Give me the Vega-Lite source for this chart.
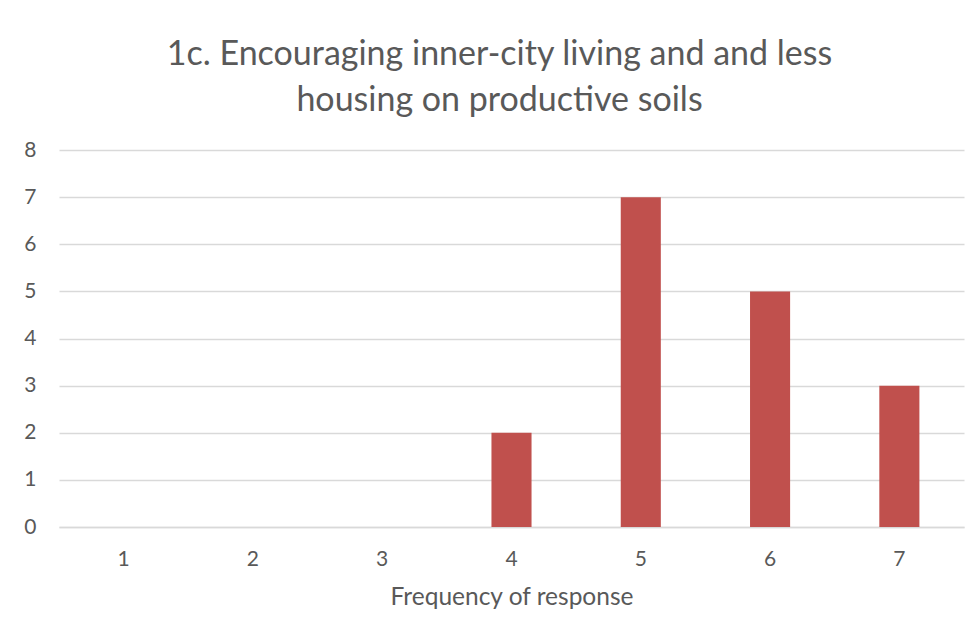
{
  "$schema": "https://vega.github.io/schema/vega-lite/v6.json",
  "width": 905,
  "height": 377,
  "autosize": {"type": "none"},
  "padding": {"left": 59, "top": 150, "right": 16, "bottom": 114},
  "background": "white",
  "title": {
    "text": ["1c. Encouraging inner-city living and and less", "housing on productive soils"],
    "font": "Lato",
    "fontSize": 34,
    "fontWeight": "normal",
    "color": "#595959",
    "lineHeight": 46,
    "anchor": "middle",
    "dx": -12,
    "offset": 21
  },
  "data": {
    "values": [
      {"response": "1", "count": 0},
      {"response": "2", "count": 0},
      {"response": "3", "count": 0},
      {"response": "4", "count": 2},
      {"response": "5", "count": 7},
      {"response": "6", "count": 5},
      {"response": "7", "count": 3}
    ]
  },
  "mark": {"type": "bar", "color": "#C0504D"},
  "encoding": {
    "x": {
      "field": "response",
      "type": "ordinal",
      "sort": null,
      "scale": {"paddingInner": 0.69, "paddingOuter": 0.345},
      "axis": {
        "title": "Frequency of response",
        "labelAngle": 0,
        "labelFont": "Lato",
        "labelFontSize": 21,
        "labelColor": "#595959",
        "labelPadding": 21,
        "ticks": false,
        "domainColor": "#D9D9D9",
        "domainWidth": 1.5,
        "titleFont": "Lato",
        "titleFontSize": 24.5,
        "titleFontWeight": "normal",
        "titleColor": "#595959",
        "titlePadding": 16
      }
    },
    "y": {
      "field": "count",
      "type": "quantitative",
      "scale": {"domain": [0, 8]},
      "axis": {
        "title": null,
        "values": [0, 1, 2, 3, 4, 5, 6, 7, 8],
        "labelOverlap": false,
        "labelFont": "Lato",
        "labelFontSize": 21,
        "labelColor": "#595959",
        "labelPadding": 23,
        "ticks": false,
        "domain": false,
        "gridColor": "#D9D9D9",
        "gridWidth": 1.5
      }
    }
  },
  "config": {"view": {"stroke": null}}
}
